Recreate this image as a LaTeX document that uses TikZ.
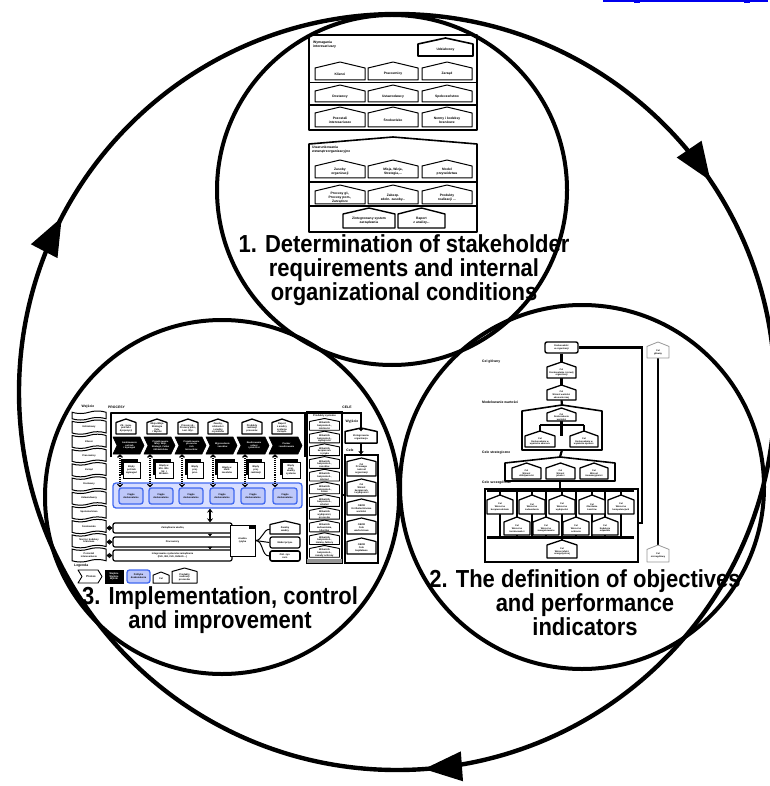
\documentclass[tikz,border=0pt]{standalone}
\usepackage{fontspec}
\setmainfont{Liberation Sans}
\usetikzlibrary{arrows.meta,shapes.symbols,backgrounds}

\definecolor{linkblue}{RGB}{0,0,238}
\definecolor{kaizenline}{RGB}{64,104,240}
\definecolor{kaizenband}{RGB}{216,222,255}
\definecolor{kaizenbox}{RGB}{190,200,250}
\definecolor{softgrey}{RGB}{150,150,150}

\def\RoofMax{6}

% box with a peaked roof: [path style]{name}{x1}{y1}{x2}{y2}{text}
\newcommand\HouseBox[7][]{%
  \pgfmathsetmacro\RoofH{min(\RoofMax,0.2*((#5)-(#3)))}%
  \pgfmathsetmacro\BodyH{(#6)-(#4)-\RoofH}%
  \pgfmathsetmacro\BodyW{(#5)-(#3)}%
  \path[housebox,#1] (#3,#6) -- (#3,{#4+\RoofH}) -- ({(#3+#5)/2},#4) -- (#5,{#4+\RoofH}) -- (#5,#6) -- cycle;
  \node[boxtext, minimum width=\BodyW pt, minimum height=\BodyH pt] (#2) at ({(#3+#5)/2},{(#4+\RoofH+#6)/2}) {#7};}

% process chevron: [path style]{name}{x1}{y1}{x2}{y2}{text}
\newcommand\ProcArrow[7][]{%
  \path[procarrow,#1] (#3,#4) -- ({#5-4},#4) -- (#5,{(#4+#6)/2}) -- ({#5-4},#6) -- (#3,#6) -- ({#3+4},{(#4+#6)/2}) -- cycle;
  \pgfmathsetmacro\BodyW{(#5)-(#3)-4}\pgfmathsetmacro\BodyH{(#6)-(#4)}%
  \node[proctext, minimum width=\BodyW pt, minimum height=\BodyH pt] (#2) at ({(#3+#5)/2+1},{(#4+#6)/2}) {#7};}

% plain rectangular node: [node style]{name}{x1}{y1}{x2}{y2}{text}
\newcommand\PlainBox[7][]{%
  \pgfmathsetmacro\BodyW{(#5)-(#3)}\pgfmathsetmacro\BodyH{(#6)-(#4)}%
  \node[boxtext, #1, minimum width=\BodyW pt, minimum height=\BodyH pt] (#2) at ({(#3+#5)/2},{(#4+#6)/2}) {#7};}

% error sheet with a dark sheet behind it
\newcommand\DocBox[6]{%
  \fill ({#2-2},{#3-3}) rectangle ({#4-2},{#5-3});
  \PlainBox[draw, fill=white, line width=0.8pt]{#1}{#2}{#3}{#4}{#5}{#6}}

% arrowhead on the outer cycle, tip at angle #1 (clockwise from east)
\newcommand\RingTip[1]{%
  \fill ({397+378*cos(#1)},{392+378*sin(#1)})
     -- ({397+378*cos(#1)+38*sin(#1)+15*cos(#1)},{392+378*sin(#1)-38*cos(#1)+15*sin(#1)})
     -- ({397+378*cos(#1)+38*sin(#1)-15*cos(#1)},{392+378*sin(#1)-38*cos(#1)-15*sin(#1)}) -- cycle;}

\begin{document}
\begin{tikzpicture}[x=1pt,y=-1pt,
  outerring/.style={line width=4.4pt},
  ring/.style={line width=4pt},
  frame/.style={draw, line width=1.6pt, line join=round},
  housebox/.style={draw, fill=white, line width=1pt, line join=round},
  boxtext/.style={font=\fontsize{3.3}{3.8}\selectfont\bfseries, align=center, inner sep=0pt},
  proctext/.style={font=\fontsize{2.3}{2.7}\selectfont\bfseries, text=white, align=center, inner sep=0pt},
  procarrow/.style={fill=black, draw=black, line width=0.6pt, line join=round},
  caption/.style={font=\fontsize{3.4}{4}\selectfont\bfseries, inner sep=0pt, align=left},
  heading/.style={font=\fontsize{22}{21.5}\selectfont\bfseries, align=center, inner sep=0pt, transform shape},
  treeline/.style={line width=2.2pt},
  dotarrow/.style={line width=1.1pt, densely dotted, {Straight Barb[length=2.5pt,width=5pt]}-{Straight Barb[length=2.5pt,width=5pt]}},
]
\useasboundingbox (0,0) rectangle (769,786);

% underlined link fragment at the top edge
\fill[linkblue] (603,0) rectangle (768,2.2);
\fill[linkblue] (634,1) rectangle (640,3.2);
\fill[linkblue] (744,1) rectangle (750,3.2);

% ---------------- rings ----------------
\draw[outerring] (397,392) circle[radius=378];
\RingTip{326}
\RingTip{85.9}
\RingTip{207.5}
\draw[ring] (392,190) circle[radius=175];
\draw[ring] (582,487) circle[radius=182];
\draw[ring] (222,497) circle[radius=177];

% ---------------- circle 1: requirements and conditions ----------------
\draw[frame] (309,35) rectangle (477,130);
\node[caption, anchor=north west] (reqTitle) at (313,41) {Wymagania\\interesariuszy};
\HouseBox[line width=1.6pt]{udz}{418}{38}{473}{56}{Udziałowcy}
\draw[line width=1.6pt] (309,82.5) -- (477,82.5) (309,105) -- (477,105);
\HouseBox{kli}{315}{62}{365}{80}{Klienci}
\HouseBox{pra}{368}{62}{418}{80}{Pracownicy}
\HouseBox{zar}{422}{62}{472}{80}{Zarząd}
\HouseBox{dos}{315}{85}{365}{102}{Dostawcy}
\HouseBox{ust}{368}{85}{418}{102}{Ustawodawcy}
\HouseBox{spo}{422}{85}{472}{102}{Społeczeństwo}
\HouseBox{poz}{315}{107}{365}{127}{Pozostali\\interesariusze}
\HouseBox{sro}{368}{107}{418}{127}{Środowisko}
\HouseBox{nor}{422}{107}{472}{127}{Normy i kodeksy\\branżowe}

\draw[frame, fill=white] (309,232) -- (309,144) -- (393,137) -- (477,144) -- (477,232) -- cycle;
\node[caption, anchor=north west] (condTitle) at (312,146) {Uwarunkowania\\wewnątrzorganizacyjne};
\draw[line width=1.6pt] (309,182) -- (477,182) (309,206) -- (477,206);
\HouseBox{zas}{315}{160}{365}{178}{Zasoby\\organizacji}
\HouseBox{mis}{368}{160}{418}{178}{Misja, Wizja,\\Strategia,...}
\HouseBox{mod}{422}{160}{472}{178}{Model\\przywództwa}
\HouseBox{prg}{315}{185}{365}{204}{Procesy gł.,\\Procesy pom.,\\Zarządcze}
\HouseBox{zab}{368}{185}{418}{204}{Zabezp.\\zdoln. zasoby...}
\HouseBox{prd}{422}{185}{472}{204}{Produkty\\realizacji ...}
\HouseBox[line width=1.4pt]{zsz}{343}{208}{395}{228}{Zintegrowany system\\zarządzania}
\HouseBox[line width=1.4pt]{rap}{398}{208}{445}{228}{Raport\\z analizy...}

\begin{scope}[shift={(404,270.5)}, yscale=1.12]
  \node[heading] (h1) at (0,0) {1. Determination of stakeholder\\requirements and internal\\organizational conditions};
\end{scope}

% ---------------- circle 2: objectives and indicators ----------------
\begin{scope}[boxtext/.style={font=\fontsize{2.3}{2.7}\selectfont\bfseries, align=center, inner sep=0pt}]
\def\RoofMax{5}
\node[draw, fill=white, line width=1.4pt, rounded corners=2pt, minimum width=33pt, minimum height=11pt, boxtext] (cg0) at (561.5,347.5) {Doskonałość\\w organizacji};
\node[caption, anchor=west] (lab1) at (482,362) {Cel główny};
\node[caption, anchor=west] (lab2) at (482,402) {Modelowanie wartości};
\node[caption, anchor=west] (lab3) at (482,453) {Cele strategiczne};
\node[caption, anchor=west] (lab4) at (482,483) {Cele szczegółowe};
\HouseBox[line width=1.3pt]{cg1}{547}{362}{576}{378}{Cel\\Doskonalenie i rozwój\\organizacji}
\HouseBox[line width=1.3pt]{cg2}{547}{385}{576}{400}{Cel\\Wzrost wartości\\ekonomicznej}
\draw[frame] (522,450) -- (522,411) -- (562,405) -- (602,411) -- (602,450) -- cycle;
\coordinate (boxApeak) at (562,405);
\coordinate (boxAbase) at (562,450);
\HouseBox[line width=1.3pt]{cg3}{547}{408}{576}{421}{Cel\\Doskonalenie\\wartości}
\HouseBox[line width=1.3pt]{cg4}{525}{431}{555}{447}{Cel\\Doskonalenie w\\wymiarze ekonom.}
\HouseBox[line width=1.3pt]{cg5}{570}{431}{598}{447}{Cel\\Doskonalenie w\\wymiarze społecz.}
\draw[frame] (505,481) -- (505,463) -- (560,457) -- (615,463) -- (615,481) -- cycle;
\coordinate (boxBpeak) at (560,457);
\coordinate (boxBbase) at (560,481);
\HouseBox[line width=1.3pt]{cg6}{512}{463}{541}{479}{Cel\\Wzrost\\efektywności}
\HouseBox[line width=1.3pt]{cg7}{546}{463}{575}{479}{Cel\\Wzrost\\jakości}
\HouseBox[line width=1.3pt]{cg8}{580}{463}{608}{479}{Cel\\Wzrost\\innowacyjności}
\node[draw, line width=1.4pt, minimum width=153pt, minimum height=73pt, inner sep=0pt] (boxC) at (561.5,525.5) {};
\HouseBox[line width=1.3pt]{cg9}{487}{495}{513}{514}{Cel\\Wzrost w\\bezpieczeństwie}
\HouseBox[line width=1.3pt]{cg10}{519}{495}{545}{514}{Cel\\Wzrost w\\zadowoleniu}
\HouseBox[line width=1.3pt]{cg11}{549}{495}{575}{514}{Cel\\Wzrost w\\wydajności}
\HouseBox[line width=1.3pt]{cg12}{579}{495}{605}{514}{Cel\\Obniżenie\\kosztów}
\HouseBox[line width=1.3pt]{cg13}{608}{495}{634}{514}{Cel\\Wzrost w\\kompetencjach}
\HouseBox[line width=1.3pt]{cg14}{504}{517}{530}{535}{Cel\\Wzrost w\\terminowości}
\HouseBox[line width=1.3pt]{cg15}{533}{517}{559}{535}{Cel\\Wzrost w\\zaangażowaniu}
\HouseBox[line width=1.3pt]{cg16}{563}{517}{589}{535}{Cel\\Wzrost w\\ochronie}
\HouseBox[line width=1.3pt]{cg17}{592}{517}{618}{535}{Cel\\Redukcja\\odpadów}
\HouseBox[line width=1.3pt]{cg18}{547}{540}{577}{558}{Cel\\Wzrost efekt.\\energetycznej}
\HouseBox[draw=softgrey, line width=0.8pt]{gtop}{647}{342}{669}{358}{Cel\\główny}
\HouseBox[draw=softgrey, line width=0.8pt]{gbot}{647}{545}{669}{562}{Cel\\szczegółowy}
\coordinate (hookTurn) at (642,523);
\draw[treeline] (cg0.east) -| (hookTurn) -- (boxC.east |- hookTurn);
\begin{scope}[on background layer]
  \draw[treeline] (cg0.south) -- (cg1.north);
  \draw[treeline] (cg1.south) -- (cg2.north);
  \draw[treeline] (cg2.south) -- (boxApeak);
  \draw[treeline] (cg3.south) -- (cg3.south |- cg4.north);
  \draw[treeline] (cg4.north |- 0,425) -- (cg5.north |- 0,425);
  \draw[treeline] (cg4.north |- 0,425) -- (cg4.north);
  \draw[treeline] (cg5.north |- 0,425) -- (cg5.north);
  \draw[treeline] (boxAbase) -- (boxBpeak);
  \draw[treeline] (boxBbase) -- (boxBbase |- boxC.north);
  \draw[treeline] (cg9.west |- 0,491) -- (cg13.east |- 0,491);
  \draw[treeline] (cg9.west |- 0,537.5) -- (cg13.east |- 0,537.5);
  \foreach \n in {cg9,cg10,cg11,cg12,cg13,cg14,cg15,cg16,cg17}
    \draw[treeline] (\n.center |- 0,491) -- (\n.center |- 0,537.5);
  \draw[treeline] (cg18.center |- 0,537.5) -- (cg18.north);
  \draw[treeline] (gtop.south) -- (gbot.north);
\end{scope}
\end{scope}

\begin{scope}[shift={(585,602.5)}, yscale=1.12]
  \node[heading] (h2) at (0,0) {2. The definition of objectives\\and performance\\indicators};
\end{scope}

% ---------------- circle 3: implementation, control, improvement ----------------
\begin{scope}[boxtext/.style={font=\fontsize{2.4}{2.75}\selectfont\bfseries, align=center, inner sep=0pt}]
\def\RoofMax{3.5}
\node[caption] (capIn) at (88,407) {Wejście};
\node[caption, anchor=west] (capProc) at (108,407) {PROCESY};
\node[caption] (capGoals) at (347,407) {CELE};
\node[caption] (capOut) at (352,422) {Wyjście};

% stakeholders column
\node[tape, draw, fill=white, line width=1pt, tape bend height=2.5pt, minimum width=34pt, minimum height=9pt, inner sep=0pt] (in0) at (89,415.5) {};
\foreach \k/\t in {1/Udziałowcy,2/Klienci,3/Pracownicy,4/Zarząd,5/Dostawcy,6/Ustawodawcy,7/Społeczeństwo,8/Środowisko,9/{Normy i kodeksy\\branżowe},10/{Pozostali\\interesariusze}}
  \node[tape, draw, fill=white, line width=1pt, tape bend height=2.5pt, minimum width=34pt, minimum height=14.2pt, boxtext] (in\k) at (89,{412.9+14.2*\k}) {\t};

% process frame
\draw[line width=2.2pt, line join=round] (111,457) -- (111,413) -- (305,413) -- (305,457);
\coordinate (procTR) at (305,413);

\HouseBox[line width=1.3pt]{pr1}{116}{419}{136}{434}{Zd. i pow.\\potrzeb i\\dyspozycji}
\HouseBox[line width=1.3pt]{pr2}{147}{419}{167}{434}{Misja Wizja\\Strategia\\Cele\\i Wyniki}
\HouseBox[line width=1.3pt]{pr3}{178}{419}{198}{434}{Procesy gł.,\\Procesy pom.,\\Łań. Wyr.}
\HouseBox[line width=1.3pt]{pr4}{208}{419}{228}{434}{Zasoby,\\zdolności\\i analizy\\czynników}
\HouseBox[line width=1.3pt]{pr5}{242}{419}{262}{434}{Produkty\\realizacji\\procesów}
\HouseBox[line width=1.3pt]{pr6}{272}{419}{292}{434}{Raport\\z analizy\\systemu\\zarządz.}

\ProcArrow{cv1}{113}{437}{144}{454}{Analizowanie\\potrzeb\\i wymagań}
\ProcArrow{cv2}{144}{437}{175}{454}{Projektowanie\\Misji, Wizji,\\Strategii, Celów\\i Wskaźników}
\ProcArrow{cv3}{175}{437}{206}{454}{Projektowanie\\procesów\\i ich\\łańcuchów}
\ProcArrow{cv4}{206}{437}{237}{454}{Wyposażanie\\zasobów}
\ProcArrow{cv5}{237}{437}{269}{454}{Realizowanie\\usługi\\i płatności}
\ProcArrow{cv6}{269}{437}{302}{454}{Pomiar\\i analizowanie}

\DocBox{er1}{123}{462}{140}{478}{Błędy\\potrzeb\\wymagań}
\DocBox{er2}{155}{462}{173}{478}{Błędy w\\Mis. Wiz.\\Str. i\\Wskaźn.}
\DocBox{er3}{187}{462}{203}{478}{Błędy\\proj.\\proc.}
\DocBox{er4}{217}{462}{237}{478}{Błędy w\\ident.\\zasobów}
\DocBox{er5}{248}{462}{264}{478}{Błędy\\proj.\\realizacji}
\DocBox{er6}{282}{462}{300}{478}{Błędy\\proj.\\analizy\\systemu}

% continuous improvement band
\PlainBox[draw=kaizenline, fill=kaizenband, line width=1.3pt, rounded corners=3pt]{band}{113}{483}{302}{508}{}
\foreach \k/\xa in {1/119,2/149,3/179,4/210,5/241,6/273}
  \PlainBox[draw=kaizenline, fill=kaizenbox, line width=1.3pt, rounded corners=2.5pt]{ci\k}{\xa}{488}{\xa+24}{504}{Ciągłe\\doskonalenie};
\foreach \k/\ax in {1/120,2/150,3/182,4/213,5/245,6/275} {
  \coordinate (ax\k) at (\ax,0);
  \draw[dotarrow] (cv\k.south -| ax\k) -- (ci\k.north -| ax\k);
}

% support processes
\PlainBox[draw, fill=white, line width=1.2pt, rounded corners=2pt]{zw}{113}{523}{232}{533}{Zarządzanie wiedzą}
\PlainBox[draw, fill=white, line width=1.2pt, rounded corners=2pt]{prc}{113}{537}{232}{547}{Pracownicy}
\PlainBox[draw, fill=white, line width=1.2pt, rounded corners=2pt]{isz}{113}{550}{232}{561}{Integrowanie systemów zarządzania\\(ISO, ISO, ISO, OHSAS ...)}
\coordinate (ax0) at (210,0);
\draw[line width=1.6pt, {Stealth[length=4pt,width=6pt]}-{Stealth[length=4pt,width=6pt]}] (band.south -| ax0) -- (zw.north -| ax0);
\draw[line width=0.8pt, -{Triangle[length=2.5pt,width=4pt]}] (zw.south -| ax0) -- (prc.north -| ax0);
\draw[line width=0.8pt, -{Triangle[length=2.5pt,width=4pt]}] (prc.south -| ax0) -- (isz.north -| ax0);
\foreach \b/\t in {zw/in8,prc/in9,isz/in10}
  \draw[line width=1.2pt, {Triangle[length=3pt,width=5pt]}-{Triangle[length=3pt,width=5pt]}] (\b.west) -- (\b.west -| \t.east);

\PlainBox[draw, fill=white, line width=1pt]{risk}{230}{525}{255}{556}{Analiza\\ryzyka}
\fill (249,525) rectangle (255,529);
\HouseBox[line width=1.2pt]{tz1}{270}{521}{300}{534}{Zasoby\\wiedzy}
\PlainBox[draw, fill=white, line width=1.2pt, rounded corners=2pt]{tz2}{270}{537}{300}{548}{Model przyw.}
\PlainBox[draw, fill=white, line width=1.6pt, rounded corners=2pt]{tz3}{270}{551}{300}{561}{Zint. sys.\\zarz.}
\draw[line width=1pt] (risk.east) to[out=0,in=180] (tz1.west);
\draw[line width=1pt] (risk.east) -- (tz2.west);
\draw[line width=1pt] (risk.east) to[out=0,in=180] (tz3.west);

% system products column
\PlainBox[draw, fill=white, line width=1.2pt]{pcol}{307}{412}{342}{563}{}
\fill[softgrey] (307,559) rectangle (342,563);
\node[caption, font=\fontsize{2.6}{3}\selectfont\bfseries] (capProd) at (324.5,415.5) {Produkty systemu};
\def\RoofMax{3}
\foreach \k/\t in {0/{Wskaźnik\\bezpieczeń.,\\zdolności},1/{Wskaźnik\\bezpieczeń.,\\wydajności},2/{Wskaźnik\\bezpieczeń.\\i ryzyka},3/{Wskaźnik\\bezpieczeń.,\\zasobów},4/{Wskaźnik\\bezpieczeń.,\\zdarzeń},5/{Wskaźnik\\bezpieczeń.,\\zmian},6/{Wskaźnik\\bezpieczeń.,\\szkoleń},7/{Wskaźnik\\wydajności,\\procesów},8/{Wskaźnik\\zadowolenia,\\klientów},9/{Wskaźnik\\bezpieczeń.,\\zmiany, faktury},10/{Wskaźnik\\bezpieczeń.,\\zasady ochrony}}
  \HouseBox[line width=0.9pt]{pp\k}{309.5}{418.5+12.7*\k}{339.5}{430.2+12.7*\k}{\t};

% goals column
\def\RoofMax{3.5}
\HouseBox[line width=1.5pt]{zo}{345}{428}{377}{443}{Zintegrowana\\organizacja}
\draw[line width=2.2pt, -{Triangle[length=3pt,width=5pt]}] (procTR) -| (zo.north);
\node[caption] (capCele) at (350,450) {Cele};
\PlainBox[draw, fill=white, line width=1.2pt]{ccol}{345}{455}{378}{563}{}
\draw[line width=1.5pt, -{Triangle[length=3pt,width=5pt]}] (zo.south) -- (zo.south |- ccol.north);
\coordinate (ay) at (0,495);
\draw[line width=1pt, -{Triangle[length=3pt,width=5pt]}] (pcol.east |- ay) -- (ccol.west |- ay);
\HouseBox[line width=1.2pt]{ce1}{347}{458}{376}{476}{Cel\\Przewaga\\i wzrost\\organizacji}
\HouseBox[line width=1.2pt]{ce2}{347}{479}{376}{496}{Cel\\Wzrost\\bezpieczeń.\\i wydajności}
\HouseBox[line width=1.2pt]{ce3}{347}{499}{376}{515}{OBOR\\Krótkoterminowe\\wartości}
\HouseBox[line width=1.2pt]{ce4}{347}{518}{376}{534}{OBOR\\Cele\\wartościowe}
\HouseBox[line width=1.2pt]{ce5}{347}{538}{376}{554}{OBOR\\Cele\\kapitałowe}

% legend
\node[caption, anchor=west] (capLeg) at (74,566) {Legenda};
\begin{scope}[proctext/.append style={text=black, font=\fontsize{2.8}{3.2}\selectfont\bfseries}]
\ProcArrow[fill=white, line width=0.9pt]{lg1}{78}{570}{102}{583}{Proces}
\end{scope}
\PlainBox[draw, fill=black, text=white, line width=0.8pt]{lg2}{105}{570}{123}{583}{Wejście\\Wyjście\\Wyniki}
\PlainBox[draw=kaizenline, fill=kaizenbox, line width=1.3pt, rounded corners=2.5pt]{lg3}{127}{570}{150}{583}{Polityka\\doskonalenia}
\HouseBox[line width=1pt]{lg4}{153}{572}{169}{583}{Cel}
\HouseBox[line width=1pt]{lg5}{172}{568}{197}{583}{Produkty\\realizacji\\procesów}
\end{scope}

\begin{scope}[shift={(220,610)}, yscale=1.12]
  \node[heading] (h3) at (0,0) {3. Implementation, control\\and improvement};
\end{scope}
\end{tikzpicture}
\end{document}
